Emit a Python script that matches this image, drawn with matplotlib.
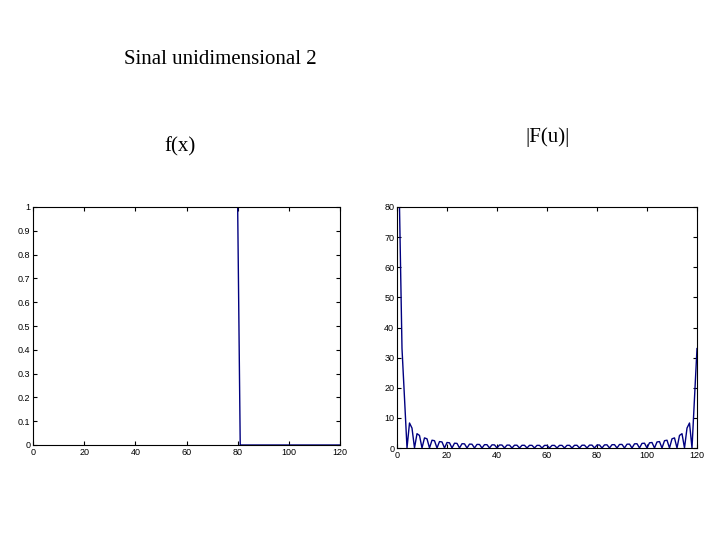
import matplotlib
matplotlib.use("Agg")
import matplotlib.pyplot as plt

x_left = list(range(1, 121))
f_vals = [1]*80 + [0]*40

x_right = list(range(1, 121))
F_vals = [80, 33.0, 16.6, 0, 8.3, 6.6, 0, 4.75, 4.17, 0, 3.35, 3.05, 0, 2.59, 2.42, 0,
          2.13, 2.01, 0, 1.82, 1.73, 0, 1.59, 1.53, 0, 1.42, 1.38, 0, 1.29, 1.26, 0,
          1.19, 1.17, 0, 1.11, 1.09, 0, 1.05, 1.03, 0, 1.0, 0.985, 0, 0.96, 0.95, 0,
          0.93, 0.92, 0, 0.90, 0.90, 0, 0.885, 0.88, 0, 0.874, 0.87, 0, 0.867, 0.866, 0,
          0.866, 0.867, 0, 0.87, 0.874, 0, 0.88, 0.885, 0, 0.90, 0.90, 0, 0.92, 0.93, 0,
          0.95, 0.96, 0, 0.985, 1.0, 0, 1.03, 1.05, 0, 1.09, 1.11, 0, 1.17, 1.19, 0,
          1.26, 1.29, 0, 1.38, 1.42, 0, 1.53, 1.59, 0, 1.73, 1.82, 0, 2.01, 2.13, 0,
          2.42, 2.59, 0, 3.05, 3.35, 0, 4.17, 4.75, 0, 6.6, 8.3, 0, 16.6, 33.0]

plt.rcParams['font.family'] = ['Liberation Serif', 'DejaVu Serif']
fig = plt.figure(figsize=(7.2, 5.4), dpi=100)
fig.text(220/720, 1-60/540, "Sinal unidimensional 2", ha='center', va='center', fontsize=15)
fig.text(180/720, 1-147/540, "f(x)", ha='center', va='center', fontsize=15)
fig.text(548/720, 1-137/540, "|F(u)|", ha='center', va='center', fontsize=15)

col = '#000080'
ax1 = fig.add_axes([33/720, 1-445/540, (340-33)/720, (445-207)/540])
ax1.plot(x_left, f_vals, color=col, lw=1)
ax1.set_xlim(0, 120); ax1.set_ylim(0, 1)
ax1.set_xticks(range(0, 121, 20)); ax1.set_yticks([i/10 for i in range(11)])
ax1.set_yticklabels(['0','0.1','0.2','0.3','0.4','0.5','0.6','0.7','0.8','0.9','1'])

ax2 = fig.add_axes([397/720, 1-448/540, (697-397)/720, (448-207)/540])
ax2.plot(x_right, F_vals, color=col, lw=1)
ax2.set_xlim(0, 120); ax2.set_ylim(0, 80)
ax2.set_xticks(range(0, 121, 20)); ax2.set_yticks(range(0, 81, 10))

for ax in (ax1, ax2):
    ax.tick_params(direction='in', length=3, labelsize=6.5, top=True, right=True, pad=2)
    for lab in ax.get_xticklabels() + ax.get_yticklabels():
        lab.set_family('Liberation Sans')
    for s in ax.spines.values():
        s.set_linewidth(0.8)

fig.savefig("out.png", dpi=100)
